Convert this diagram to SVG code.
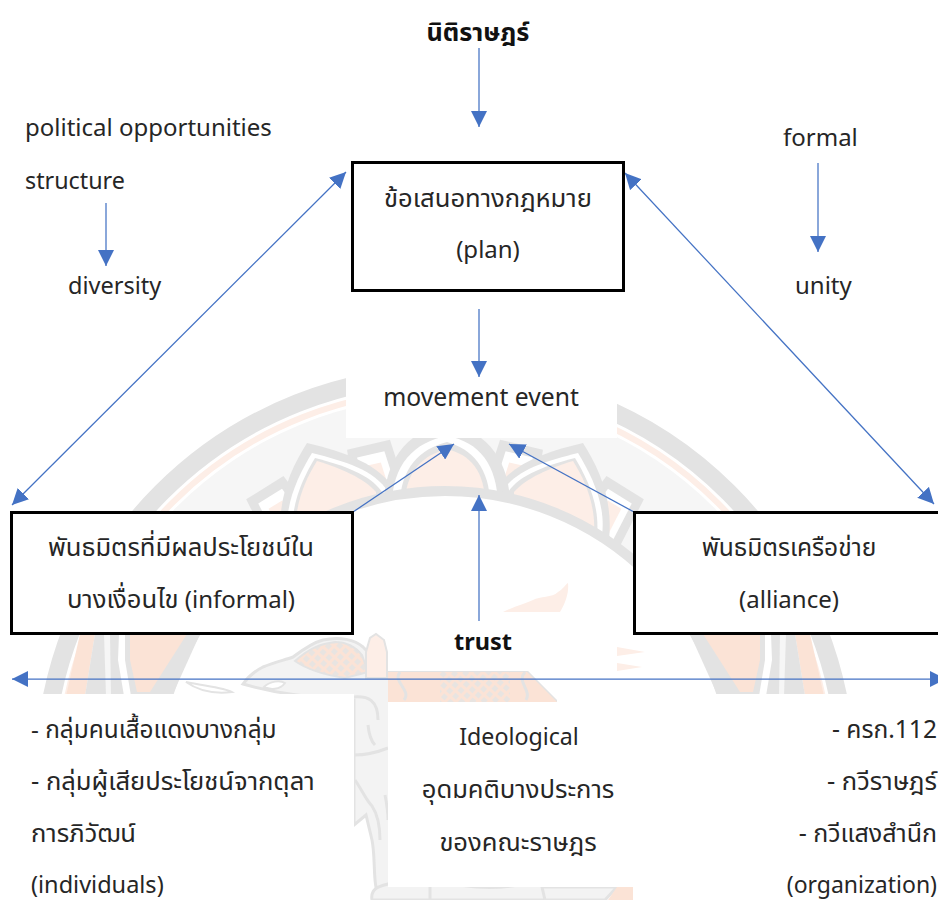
<svg xmlns="http://www.w3.org/2000/svg" width="938" height="900" viewBox="0 0 938 900">
<style>
text{font-family:"Noto Sans","Noto Sans Thai","Open Sans","DejaVu Sans",sans-serif;font-size:24px;fill:#262626}
.m{text-anchor:middle}.e{text-anchor:end}.b{font-weight:700;fill:#111}
.t{font-size:25.6px}
.box{fill:#fff;stroke:#000;stroke-width:3}
.c{fill:none;stroke:#4472C4;stroke-width:1.25}
.mask{fill:#fff}
.g{fill:#e3e3e3}.w{fill:#fff}.o{fill:#fdeee7}.o2{fill:#fbe3d6}
.ln{fill:none;stroke:#e3e3e3;stroke-width:3}
</style>
<defs>
<marker id="ah" viewBox="0 0 16 16" refX="16" refY="8" markerWidth="16" markerHeight="16" markerUnits="userSpaceOnUse" orient="auto-start-reverse"><path d="M0 0L16 8L0 16Z" fill="#4472C4"/></marker>
<pattern id="hatch" width="8" height="8" patternUnits="userSpaceOnUse" patternTransform="rotate(42)"><rect width="8" height="8" fill="#fbe3d6"/><rect x="2" y="2" width="5" height="5" fill="#e8e4e1"/></pattern>
<g id="chev">
<path class="g" d="M417 505L423 436H467L473 505Z"/>
<path class="w" d="M426 505L431 446H459L464 505Z"/>
<path class="o" d="M433 505L437 456H453L457 505Z"/>
</g>
<g id="sidepetal">
<path class="g" d="M494 492C510 464 545 452 583 443C600 470 613 500 609 540H500Z"/>
<path class="w" d="M502 492C515 470 546 461 578 453C592 476 606 505 602 535H505Z"/>
<path class="g" d="M508 492C520 474 548 465 575 458C587 478 600 505 597 535H510Z"/>
<path class="o" d="M514 492C526 478 550 468 573 461C585 480 596 505 594 535H515Z"/>
</g>
<g id="side">
<path class="o2" d="M80 634H95L85 696H66Z"/>
<path class="g" d="M95 634H104L106 696H85Z"/>
<path class="g" d="M110 634H200L172 696H111Z"/>
<path class="w" d="M119 634H125L125 660L131 696H124L118 660Z"/>
<path class="o2" d="M130 634H187L150 692H137L130 660Z"/>
</g>
</defs>
<g id="watermark">
<circle cx="445" cy="776" r="401" fill="none" stroke="#e3e3e3" stroke-width="18"/>
<circle cx="445" cy="776" r="386" fill="none" stroke="#fdeee7" stroke-width="6"/>
<circle cx="445" cy="776" r="380" fill="#f6f6f6"/>
<use href="#chev" transform="rotate(-32 445 776)"/>
<use href="#chev" transform="rotate(32 445 776)"/>
<use href="#chev" transform="rotate(-13 445 776)"/>
<use href="#chev" transform="rotate(13 445 776)"/>
<use href="#sidepetal"/>
<use href="#sidepetal" transform="matrix(-1 0 0 1 890 0)"/>
<path class="g" d="M447 425C490 430 510 465 510 505H384C384 465 404 430 447 425Z"/>
<path class="w" d="M447 436C480 442 497 465 498 505H392C392 465 414 442 447 436Z"/>
<path class="g" d="M447 442C472 449 490 468 490 505H400C400 468 420 449 447 442Z"/>
<path class="o" d="M447 449C470 455 485 470 485 505H405C405 470 424 455 447 449Z"/>
<circle cx="445" cy="781" r="290" fill="#fff" stroke="#e3e3e3" stroke-width="10"/>
<use href="#side"/>
<use href="#side" transform="matrix(-1 0 0 1 890 0)"/>
<path class="o" d="M503 612C515 606 525 604 533 600C540 596 552 598 558 592C562 590 566 584 568 583C569 592 566 602 560 612Z"/>
<path class="o" d="M617 647L645 652L617 656ZM617 663L642 667L617 671Z"/>
<path fill="#f3f3f3" stroke="#e3e3e3" stroke-width="3" d="M243 684C250 674 257 670 263 667C275 662 285 660 293 657C305 648 315 642 323 640C340 636 355 640 363 647L388 672H527L557 702V900H380C372 885 376 860 372 840L366 815L354 825V700C330 696 300 700 243 684Z"/>
<path d="M186 682C200 692 215 694 232 692C225 688 205 686 186 682Z" fill="#fff" stroke="#e3e3e3" stroke-width="2"/>
<path d="M295 661C312 646 322 644 335 642C350 642 358 650 362 655L368 672L345 678C325 675 308 670 295 661Z" fill="url(#hatch)" stroke="#e3e3e3" stroke-width="2"/>
<path d="M366 678V652L370 638L376 634L384 640L387 652V678Z" fill="#fdeee7" stroke="#e3e3e3" stroke-width="2"/>
<path d="M264 687C270 681 280 680 285 683C280 690 270 690 264 687Z" fill="#fff" stroke="#e3e3e3" stroke-width="2"/>
<path d="M388 672H440V702H388Z" class="o2"/>
<path d="M440 672H510V702H440Z" fill="url(#hatch)"/>
<path d="M510 672H527L557 702H510Z" class="o2"/>
<path class="ln" d="M400 672C392 682 412 690 404 700M525 672C516 682 532 690 526 700"/>
<path class="ln" d="M354 697C368 696 378 700 378 720M354 755C368 755 378 752 388 748M368 725C369 735 372 742 375 745M355 780C362 790 366 800 372 806C378 815 380 825 380 840M385 795C387 805 388 812 388 820"/>
<path d="M372 900C370 888 380 886 388 884H430V900Z" fill="#f3f3f3" stroke="#e3e3e3" stroke-width="3"/>
<path d="M463 887H515Q490 891 463 887Z" class="g"/>
<path d="M542 887H617L605 900H545Z" fill="#f3f3f3" stroke="#e3e3e3" stroke-width="3"/>
<path class="o2" d="M617 887H633V900H608Z"/>
</g>
<g id="masks">
<rect class="mask" x="346" y="356" width="271" height="82"/>
<rect class="mask" x="388" y="612" width="229" height="59"/>
<rect class="mask" x="0" y="694" width="354" height="206"/>
<rect class="mask" x="388" y="702" width="229" height="185"/>
<rect class="mask" x="557" y="694" width="381" height="193"/>
<rect class="mask" x="633" y="694" width="305" height="206"/>
</g>
<g id="connectors">
<path class="c" d="M479 48V127" marker-end="url(#ah)"/>
<path class="c" d="M479 309V377" marker-end="url(#ah)"/>
<path class="c" d="M106 203V266" marker-end="url(#ah)"/>
<path class="c" d="M818 163V252" marker-end="url(#ah)"/>
<path class="c" d="M346 172L12 505" marker-start="url(#ah)" marker-end="url(#ah)"/>
<path class="c" d="M625 173L934 504" marker-start="url(#ah)" marker-end="url(#ah)"/>
<path class="c" d="M353 512L454 444" marker-end="url(#ah)"/>
<path class="c" d="M634 512L509 444" marker-end="url(#ah)"/>
<path class="c" d="M479 621V495" marker-end="url(#ah)"/>
<path class="c" d="M12 679H946" marker-start="url(#ah)" marker-end="url(#ah)"/>
</g>
<g id="node-nitirat"><text class="m b" x="478" y="41" style="font-size:25.2px">นิติราษฎร์</text></g>
<g id="node-political"><text x="25" y="136">political opportunities</text><text x="25" y="189" style="font-size:23.300px">structure</text></g>
<g id="node-diversity"><text x="68" y="294" style="font-size:23.500px">diversity</text></g>
<g id="node-formal"><text x="783" y="146">formal</text></g>
<g id="node-unity"><text x="795" y="294">unity</text></g>
<g id="node-plan"><rect class="box" x="352.500" y="162.500" width="271" height="128"/><text class="m t" x="488" y="207">ข้อเสนอทางกฎหมาย</text><text class="m" x="488" y="258">(plan)</text></g>
<g id="node-movement"><text class="m" x="481" y="406" style="font-size:24.700px">movement event</text></g>
<g id="node-informal"><rect class="box" x="11.500" y="512.500" width="341" height="121"/><text class="m t" x="181" y="556">พันธมิตรที่มีผลประโยชน์ใน</text><text class="m" x="181" y="608"><tspan class="t">บางเงื่อนไข</tspan> (informal)</text></g>
<g id="node-alliance"><rect class="box" x="634.500" y="512.500" width="310" height="121"/><text class="m" x="789" y="556" style="font-size:24.600px">พันธมิตรเครือข่าย</text><text class="m" x="789" y="608">(alliance)</text></g>
<g id="node-trust"><text class="m b" x="483" y="650" style="font-size:23.500px">trust</text></g>
<g id="node-individuals"><text x="31" y="738" style="font-size:24.400px">- กลุ่มคนเสื้อแดงบางกลุ่ม</text><text class="t" x="31" y="790">- กลุ่มผู้เสียประโยชน์จากตุลา</text><text class="t" x="31" y="842">การภิวัฒน์</text><text x="31" y="893" style="font-size:23.500px">(individuals)</text></g>
<g id="node-ideological"><text class="m" x="519" y="745" style="font-size:23.200px">Ideological</text><text class="m t" x="518" y="798">อุดมคติบางประการ</text><text class="m t" x="518" y="851">ของคณะราษฎร</text></g>
<g id="node-organization"><text class="e" x="937" y="738" style="font-size:24.600px">- ครก.112</text><text class="e t" x="937" y="790">- กวีราษฎร์</text><text class="e" x="937" y="842" style="font-size:25px">- กวีแสงสำนึก</text><text class="e" x="937" y="893" style="font-size:23px">(organization)</text></g>
</svg>
